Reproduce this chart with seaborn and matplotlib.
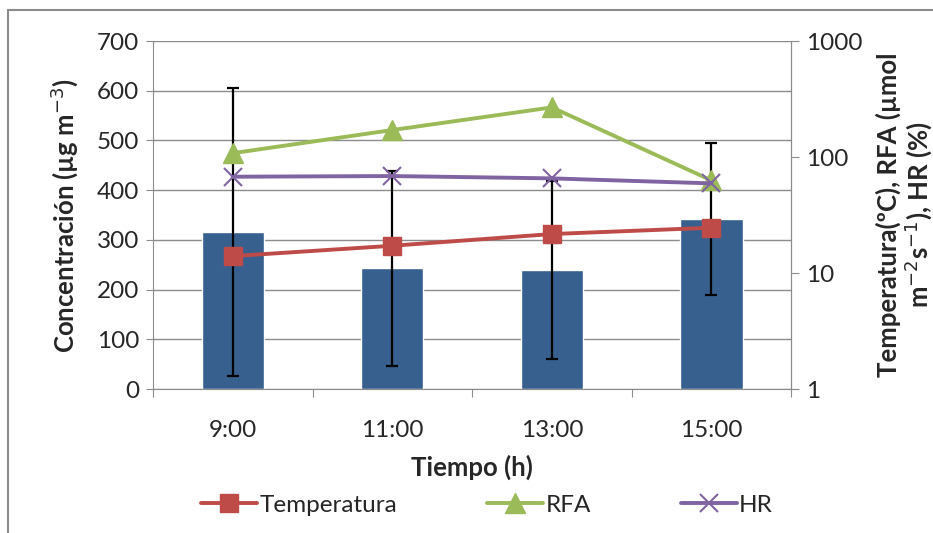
import numpy as np
import pandas as pd
import matplotlib
matplotlib.use("Agg")
from matplotlib import pyplot as plt
from matplotlib.patches import Rectangle
import seaborn as sns

horas = ['9:00', '11:00', '13:00', '15:00']
concentracion = [316, 243, 239, 342]
error_conc = [290, 196, 179, 153]
temperatura = [14.0, 17.2, 21.7, 24.6]
rfa = [108, 171, 268, 63]
hr = [67.7, 68.6, 65.5, 59.3]

sns.set_style("white")
plt.rcParams['font.family'] = ['Lato', 'DejaVu Sans']

FS = 17.5   # ticks / legend
FT = 18.5   # axis titles

fig = plt.figure(figsize=(9.33, 5.33), dpi=100)
ax = fig.add_axes([0.164, 0.270, 0.684, 0.653])

df = pd.DataFrame({'Tiempo': horas, 'Conc': concentracion})
sns.barplot(data=df, x='Tiempo', y='Conc', color='#37608F', saturation=1,
            width=0.39, ax=ax, zorder=2)
ax.errorbar(np.arange(len(horas)), concentracion, yerr=error_conc, fmt='none',
            ecolor='black', elinewidth=1.6, capsize=4, capthick=1.6, zorder=5)

ax.set_ylim(0, 700)
ax.set_yticks(range(0, 701, 100))
ax.set_xlim(-0.5, 3.5)
ax.yaxis.grid(True, color='#8C8C8C', linewidth=1)
ax.set_axisbelow(True)
ax.spines['top'].set_visible(False)
for s in ['left', 'bottom', 'right']:
    ax.spines[s].set_color('#8C8C8C')
ax.tick_params(axis='y', which='both', left=True, length=5, color='#8C8C8C',
               labelsize=FS, labelcolor='#262626', pad=5)
ax.set_xticks(np.arange(-0.5, 4, 1), minor=False)
ax.set_xticklabels([])
ax.set_xticks(np.arange(len(horas)), minor=True)
ax.set_xticklabels(horas, minor=True)
ax.tick_params(axis='x', which='major', bottom=True, length=6, color='#8C8C8C')
ax.tick_params(axis='x', which='minor', bottom=False, length=0, labelsize=FS,
               labelcolor='#262626', pad=22)
ax.set_xlabel('Tiempo (h)', fontsize=FT, fontweight='bold', labelpad=10)
ax.set_ylabel('Concentración (µg m$^{-3}$)', fontsize=FT, fontweight='bold', labelpad=12)

ax2 = ax.twinx()
ax2.set_yscale('log')
ax2.set_ylim(1, 1000)
x = np.arange(len(horas))
ax2.plot(x, temperatura, color='#BE4B48', lw=2.8, marker='s', ms=12.5, label='Temperatura', zorder=4)
ax2.plot(x, rfa, color='#9BBB59', lw=2.8, marker='^', ms=14, label='RFA', zorder=4)
ax2.plot(x, hr, color='#8064A2', lw=2.8, marker='x', ms=13, mew=1.5, label='HR', zorder=4)
ax2.set_yticks([1, 10, 100, 1000])
ax2.set_yticklabels(['1', '10', '100', '1000'])
ax2.yaxis.set_minor_locator(matplotlib.ticker.NullLocator())
ax2.tick_params(axis='y', right=True, length=6, color='#8C8C8C', labelsize=FS,
                labelcolor='#262626', pad=5)
for s in ['top', 'left', 'bottom']:
    ax2.spines[s].set_visible(False)
ax2.spines['right'].set_color('#8C8C8C')
ax2.set_ylabel('Temperatura(ºC), RFA (µmol\nm$^{-2}$s$^{-1}$), HR (%)', fontsize=FT,
               fontweight='bold', linespacing=1.05, labelpad=9)

ax.set_zorder(1)
ax2.set_zorder(2)
ax2.patch.set_visible(False)

fig.legend(*ax2.get_legend_handles_labels(), loc='center', bbox_to_anchor=(0.522, 0.052),
           ncol=3, frameon=False, fontsize=FS, handlelength=2.3, handletextpad=0.1,
           columnspacing=3.7)

fig.patches.append(Rectangle((8 / 933, -0.1), 2, 1.081, transform=fig.transFigure,
                             fill=False, edgecolor='#8C8C8C', linewidth=1.5))

fig.savefig('out.png', dpi=100)
